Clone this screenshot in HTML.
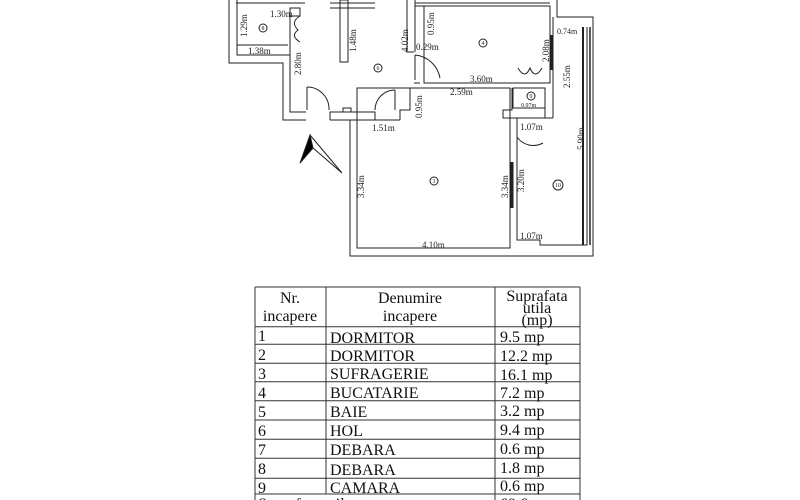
<!DOCTYPE html>
<html><head><meta charset="utf-8"><style>
html,body{margin:0;padding:0;background:#fff;}
body{width:800px;height:500px;overflow:hidden;position:relative;font-family:"Liberation Serif",serif;}
svg{position:absolute;left:0;top:0;}
</style></head><body>
<svg width="800" height="500" viewBox="0 0 800 500" font-family="Liberation Serif, serif" fill="none" stroke="#222" stroke-width="1">
<line x1="236" y1="3" x2="305" y2="3"/><line x1="330" y1="3" x2="375" y2="3"/><line x1="415" y1="3" x2="550" y2="3"/>
<polyline points="229,0 229,63 283,63 283,120 306,120"/>
<polyline points="237,0 237,55 290,55 290,112 306,112"/>
<line x1="237" y1="45" x2="288" y2="45"/>
<rect x="290" y="8" width="10" height="8"/>
<line x1="290" y1="8" x2="290" y2="55"/>
<rect x="340" y="0" width="8" height="62"/>
<line x1="330" y1="8" x2="375" y2="8"/>
<polyline points="330,120 330,112 375,112 375,120 330,120"/>
<rect x="343" y="108" width="8" height="4"/>
<polyline points="400,120 400,110 410,110 410,88 414,88"/>
<polyline points="407,0 407,52 414,52"/><polyline points="415,0 415,52"/>
<rect x="424" y="6" width="126" height="77"/>
<polyline points="415,3 415,6 424,6"/>
<polyline points="557,0 557,17 593,17 593,256 350,256 350,120 400,120"/>
<polyline points="414,88 510,88"/>
<polyline points="414,83 420,83"/>
<polyline points="512,88 512,110 503,110 503,118 510,118"/>
<rect x="357" y="88" width="153" height="160"/>
<rect x="513" y="88" width="32" height="20"/>
<polyline points="545,108 545,118 510,118"/>
<line x1="553" y1="17" x2="553" y2="118"/>
<polyline points="517,118 517,240 540,240 540,245 587,245 587,27"/>
<polyline points="553,118 517,118"/>
<line x1="583" y1="27" x2="583" y2="245" stroke-width="2"/>
<line x1="590" y1="27" x2="590" y2="245" stroke-width="1.5"/>
<line x1="512" y1="162" x2="512" y2="208" stroke-width="3"/>
<line x1="552" y1="35" x2="552" y2="70" stroke-width="3"/>
<path d="M307,87 A22,22 0 0 1 329,110"/><line x1="307" y1="87" x2="307" y2="110"/>
<path d="M375,110 A20,20 0 0 1 395,90"/><line x1="395" y1="90" x2="395" y2="110"/>
<path d="M415,55 A28,28 0 0 1 440,78"/><line x1="415" y1="55" x2="415" y2="80"/>
<path d="M517,137 A20,20 0 0 0 543,143"/><line x1="517" y1="162" x2="517" y2="137"/>
<path d="M300,16 Q290,22 298,30 Q290,36 300,42"/>
<path d="M518,68 Q525,80 530,68 Q535,80 542,68"/>
<polygon points="310,135 300,163 313,148" fill="#000"/>
<polyline points="310,135 342,173 313,148"/>
<g fill="#222" stroke="none" font-size="9">
<text x="270" y="17">1.30m</text>
<text x="248" y="54">1.38m</text>
<text x="470" y="82">3.60m</text>
<text x="450" y="95">2.59m</text>
<text x="372" y="131">1.51m</text>
<text x="520" y="130">1.07m</text>
<text x="520" y="239">1.07m</text>
<text x="422" y="248">4.10m</text>
<text x="416" y="50">0.29m</text>
<text x="557" y="34" font-size="8">0.74m</text>
<text x="521" y="107" font-size="6">0.97m</text>
</g>
<g fill="#222" stroke="none" font-size="9">
<text transform="translate(247,37) rotate(-90)">1.29m</text>
<text transform="translate(301,75) rotate(-90)">2.80m</text>
<text transform="translate(356,52) rotate(-90)">1.48m</text>
<text transform="translate(408,52) rotate(-90)">4.02m</text>
<text transform="translate(434,35) rotate(-90)">0.95m</text>
<text transform="translate(422,118) rotate(-90)">0.95m</text>
<text transform="translate(549,62) rotate(-90)">2.08m</text>
<text transform="translate(570,88) rotate(-90)">2.55m</text>
<text transform="translate(584,150) rotate(-90)">5.90m</text>
<text transform="translate(364,198) rotate(-90)">3.34m</text>
<text transform="translate(508,198) rotate(-90)">3.34m</text>
<text transform="translate(524,192) rotate(-90)">3.20m</text>
</g>
<g stroke="#222" fill="none">
<circle cx="263" cy="28" r="4"/><circle cx="378" cy="68" r="4"/><circle cx="483" cy="43" r="4"/>
<circle cx="531" cy="96" r="4"/><circle cx="434" cy="181" r="4"/><circle cx="558" cy="185" r="5"/>
</g>
<g fill="#222" stroke="none" font-size="6" text-anchor="middle">
<text x="263" y="30">8</text><text x="378" y="70">6</text><text x="483" y="45">4</text><text x="531" y="98">9</text><text x="434" y="183">3</text><text x="558" y="187">10</text>
</g>
<g stroke="#333" stroke-width="1">
<line x1="255" y1="287" x2="580" y2="287"/>
<line x1="255" y1="326.7" x2="580" y2="326.7"/>
<line x1="255" y1="344.3" x2="580" y2="344.3"/>
<line x1="255" y1="363.3" x2="580" y2="363.3"/>
<line x1="255" y1="381.7" x2="580" y2="381.7"/>
<line x1="255" y1="400.7" x2="580" y2="400.7"/>
<line x1="255" y1="420" x2="580" y2="420"/>
<line x1="255" y1="439.3" x2="580" y2="439.3"/>
<line x1="255" y1="458.3" x2="580" y2="458.3"/>
<line x1="255" y1="478.3" x2="580" y2="478.3"/>
<line x1="255" y1="494" x2="580" y2="494"/>
<line x1="255" y1="287" x2="255" y2="500"/>
<line x1="326" y1="287" x2="326" y2="494"/>
<line x1="495" y1="287" x2="495" y2="500"/>
<line x1="580" y1="287" x2="580" y2="500"/>
</g>
<g fill="#111" stroke="none" font-size="16">
<text x="290" y="303" text-anchor="middle">Nr.</text>
<text x="290" y="321" text-anchor="middle">incapere</text>
<text x="410" y="303" text-anchor="middle">Denumire</text>
<text x="410" y="321" text-anchor="middle">incapere</text>
<text x="537" y="301" text-anchor="middle">Suprafata</text>
<text x="537" y="313" text-anchor="middle">utila</text>
<text x="537" y="325" text-anchor="middle">(mp)</text>
<text x="258" y="341">1</text><text x="330" y="343">DORMITOR</text><text x="500" y="342">9.5 mp</text>
<text x="258" y="360">2</text><text x="330" y="361">DORMITOR</text><text x="500" y="361">12.2 mp</text>
<text x="258" y="379">3</text><text x="330" y="379">SUFRAGERIE</text><text x="500" y="380">16.1 mp</text>
<text x="258" y="398">4</text><text x="330" y="398">BUCATARIE</text><text x="500" y="398">7.2 mp</text>
<text x="258" y="417">5</text><text x="330" y="417">BAIE</text><text x="500" y="416">3.2 mp</text>
<text x="258" y="436">6</text><text x="330" y="436">HOL</text><text x="500" y="435">9.4 mp</text>
<text x="258" y="455">7</text><text x="330" y="455">DEBARA</text><text x="500" y="454">0.6 mp</text>
<text x="258" y="474">8</text><text x="330" y="475">DEBARA</text><text x="500" y="473">1.8 mp</text>
<text x="258" y="493">9</text><text x="330" y="493">CAMARA</text><text x="500" y="491">0.6 mp</text>
<text x="258" y="509">Suprafata utila</text><text x="500" y="509">69.6 mp</text>
</g>
</svg>
</body></html>
